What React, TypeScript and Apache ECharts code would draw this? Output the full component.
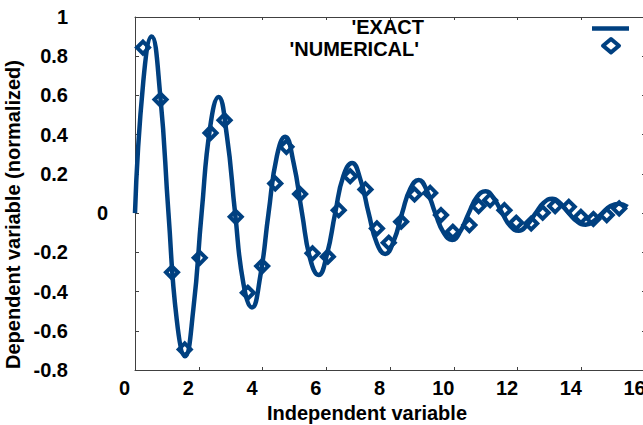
import React, { useEffect, useRef } from 'react';
import * as echarts from 'echarts';

const FONT = '"Liberation Sans", Arial, Helvetica, sans-serif';
const BLUE = '#004080';
const AXIS = '#404040';

// 'EXACT curve
const exactX = [
  0, 0.26, 0.52, 0.79, 1.05, 1.31, 1.57, 1.83, 2.09, 2.36,
  2.62, 2.88, 3.14, 3.4, 3.67, 3.93, 4.19, 4.45, 4.71, 4.97,
  5.24, 5.5, 5.76, 6.02, 6.28, 6.54, 6.81, 7.07, 7.33, 7.59,
  7.85, 8.12, 8.38, 8.64, 8.9, 9.16, 9.42, 9.69, 9.95, 10.21,
  10.47, 10.73, 11.0, 11.26, 11.52, 11.78, 12.04, 12.3, 12.57, 12.83,
  13.09, 13.35, 13.61, 13.88, 14.14, 14.4, 14.66, 14.92, 15.18, 15.45,
];
const exactY = [
  0, 0.671, 0.901, 0.604, 0, -0.544, -0.73, -0.49, 0, 0.441,
  0.592, 0.398, 0, -0.358, -0.481, -0.322, 0, 0.29, 0.39, 0.261,
  0, -0.236, -0.316, -0.212, 0, 0.191, 0.256, 0.172, 0, -0.155,
  -0.208, -0.14, 0, 0.126, 0.169, 0.113, 0, -0.102, -0.137, -0.092,
  0, 0.083, 0.111, 0.074, 0, -0.067, -0.09, -0.06, 0, 0.054,
  0.073, 0.049, 0, -0.044, -0.059, -0.04, 0, 0.036, 0.048, 0.032,
];

// 'NUMERICAL' points
const numX = [
  0.25, 0.8, 1.16, 1.56, 2.03, 2.37, 2.81, 3.16, 3.54, 3.99,
  4.4, 4.75, 5.18, 5.57, 6.05, 6.39, 6.75, 7.23, 7.59, 7.96,
  8.35, 8.77, 9.26, 9.6, 9.97, 10.49, 10.78, 11.14, 11.59, 11.96,
  12.43, 12.79, 13.18, 13.61, 13.99, 14.38, 14.8, 15.19,
];
const numY = [
  0.844, 0.579, -0.302, -0.695, -0.228, 0.409, 0.474, -0.019, -0.406, -0.27,
  0.151, 0.338, 0.097, -0.205, -0.222, 0.015, 0.188, 0.121, -0.078, -0.151,
  -0.044, 0.095, 0.103, -0.01, -0.095, -0.061, 0.036, 0.066, 0.015, -0.049,
  -0.053, 0.002, 0.036, 0.032, -0.019, -0.03, -0.01, 0.024,
];

const seriesNames = ["'EXACT", "'NUMERICAL'"];
const xTitle = 'Independent variable';
const yTitle = 'Dependent variable (normalized)';

const labelText = { fontSize: 20, fontWeight: 'bold' as const, fontFamily: FONT, color: '#000' };

export default function App() {
  const ref = useRef<HTMLDivElement>(null);
  useEffect(() => {
    const chart = echarts.init(ref.current!, null, { renderer: 'svg' });
    chart.setOption({
      animation: false,
      backgroundColor: '#fff',
      grid: { left: 135, right: -2, top: 17, bottom: 55, containLabel: false, outerBoundsMode: 'none' },
      xAxis: [
        {
          type: 'value', min: 0, max: 16, interval: 2, position: 'bottom',
          name: xTitle, nameLocation: 'middle', nameGap: 23,
          nameTextStyle: { ...labelText, padding: [0, 46, 0, 0] },
          axisLine: { show: true, onZero: false, lineStyle: { color: AXIS, width: 1 } },
          axisTick: { show: true, inside: true, length: 3, lineStyle: { color: AXIS } },
          axisLabel: {
            margin: 8,
            formatter: (v: number) => '{a|' + String(Math.round(v)) + '}',
            rich: { a: { ...labelText, padding: [0, 21, 0, 0] } },
          },
          splitLine: { show: false },
        },
        {
          type: 'value', min: 0, max: 16, interval: 2, position: 'top',
          axisLine: { show: true, onZero: false, lineStyle: { color: AXIS, width: 1 } },
          axisTick: { show: true, inside: true, length: 3, lineStyle: { color: AXIS } },
          axisLabel: { show: false },
          splitLine: { show: false },
        },
      ],
      yAxis: [
        {
          type: 'value', min: -0.8, max: 1, interval: 0.2, position: 'left',
          name: yTitle, nameLocation: 'middle', nameGap: 107,
          nameTextStyle: { ...labelText, padding: [0, 42, 0, 0] },
          axisLine: { show: true, onZero: false, lineStyle: { color: AXIS, width: 1 } },
          axisTick: { show: true, inside: true, length: 4, lineStyle: { color: AXIS } },
          axisLabel: {
            margin: 27,
            formatter: (v: number) => {
              const r = Math.round(v * 10) / 10;
              return r === 0 ? '{z|0}' : '{n|' + String(r) + '}';
            },
            rich: { z: { ...labelText }, n: { ...labelText, padding: [0, 40, 0, 0] } },
          },
          splitLine: { show: false },
        },
        {
          type: 'value', min: -0.8, max: 1, interval: 0.2, position: 'right',
          axisLine: { show: true, onZero: false, lineStyle: { color: AXIS, width: 1 } },
          axisTick: { show: true, inside: true, length: 3, lineStyle: { color: AXIS } },
          axisLabel: { show: false },
          splitLine: { show: false },
        },
      ],
      series: [
        {
          type: 'line', name: seriesNames[0], xAxisIndex: 0, yAxisIndex: 0,
          data: exactX.map((x, i) => [x, exactY[i]]),
          symbol: 'none', smooth: true,
          lineStyle: { color: BLUE, width: 4.5 },
          z: 2,
        },
        {
          type: 'scatter', name: seriesNames[1], xAxisIndex: 0, yAxisIndex: 0,
          data: numX.map((x, i) => [x, numY[i]]),
          symbol: 'diamond', symbolSize: 12,
          itemStyle: { color: 'rgba(255,255,255,0)', borderColor: BLUE, borderWidth: 4, opacity: 1 },
          z: 3,
        },
      ],
      graphic: [
        {
          type: 'text', x: 424, y: 27,
          style: { text: seriesNames[0], textAlign: 'right', textVerticalAlign: 'middle', font: 'bold 20px ' + FONT, fill: '#000' },
        },
        {
          type: 'text', x: 419, y: 49,
          style: { text: seriesNames[1], textAlign: 'right', textVerticalAlign: 'middle', font: 'bold 20px ' + FONT, fill: '#000' },
        },
        {
          type: 'rect', shape: { x: 592, y: 26.3, width: 37, height: 4.4 },
          style: { fill: BLUE },
        },
        {
          type: 'polygon',
          shape: { points: [[611, 39], [619, 45.7], [611, 52.4], [603, 45.7]] },
          style: { fill: '#fff', stroke: BLUE, lineWidth: 4, lineJoin: 'round' },
        },
      ],
    });
    return () => chart.dispose();
  }, []);
  return <div ref={ref} style={{ position: 'fixed', left: 0, top: 0, width: 643, height: 425 }} />;
}
